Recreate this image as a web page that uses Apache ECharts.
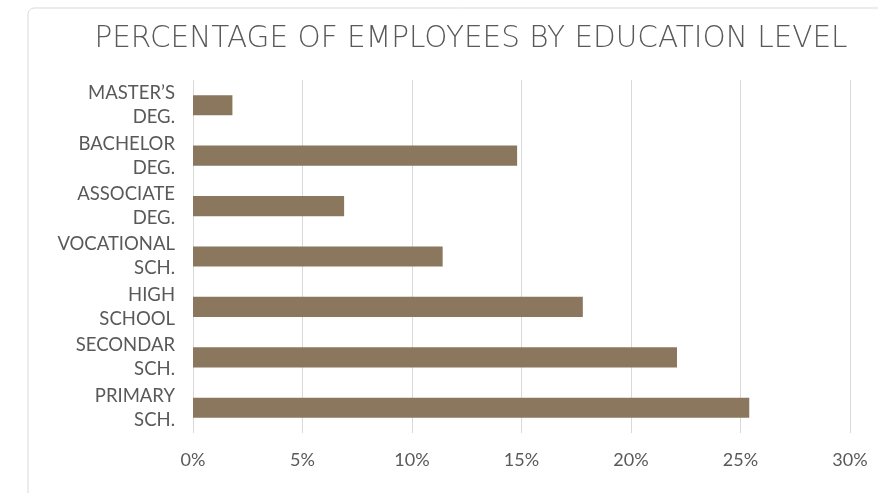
<!DOCTYPE html>
<html>
<head>
<meta charset="utf-8">
<script src="https://cdn.jsdelivr.net/npm/echarts@6/dist/echarts.min.js"></script>
<style>
html, body { margin: 0; padding: 0; background: #fff; }
#chart { width: 878px; height: 493px; }
</style>
</head>
<body>
<div id="chart"></div>
<script>
const categories = ['MASTER\u2019S\nDEG.', 'BACHELOR\nDEG.', 'ASSOCIATE\nDEG.', 'VOCATIONAL\nSCH.', 'HIGH\nSCHOOL', 'SECONDAR\nSCH.', 'PRIMARY\nSCH.'];
const shares = [1.8, 14.8, 6.9, 11.4, 17.8, 22.1, 25.4];

let myChart = echarts.init(document.getElementById('chart'));
let textColor = '#595959';

let option = {
    animation: false,
    title: {
        text: 'PERCENTAGE OF EMPLOYEES BY EDUCATION LEVEL',
        left: 466,
        textAlign: 'center',
        top: 19,
        textStyle: {
            color: textColor,
            fontFamily: '"DejaVu Sans"',
            fontWeight: 200,
            fontSize: 29.5
        }
    },
    graphic: [{
        type: 'rect',
        shape: { x: 28, y: 8, width: 900, height: 520, r: 6 },
        style: { fill: 'none', stroke: '#d9d9d9', lineWidth: 1 },
        silent: true
    }],
    grid: {
        left: 193,
        right: 28,
        top: 80,
        bottom: 60,
        containLabel: false
    },
    xAxis: {
        type: 'value',
        min: 0,
        max: 30,
        interval: 5,
        axisLine: { show: false },
        axisTick: { show: false },
        splitLine: { lineStyle: { color: '#d9d9d9', width: 1 } },
        axisLabel: {
            formatter: '{value}%',
            color: textColor,
            fontFamily: 'Lato',
            fontSize: 18,
            margin: 18
        }
    },
    yAxis: {
        type: 'category',
        inverse: true,
        data: categories,
        axisLine: { show: false },
        axisTick: { show: false },
        axisLabel: {
            color: textColor,
            fontFamily: 'Lato',
            fontSize: 18.5,
            lineHeight: 24,
            margin: 18,
            align: 'right'
        }
    },
    series: [{
        type: 'bar',
        data: shares,
        barWidth: '40%',
        itemStyle: { color: '#8a775e' }
    }]
};

myChart.setOption(option);
</script>
</body>
</html>
